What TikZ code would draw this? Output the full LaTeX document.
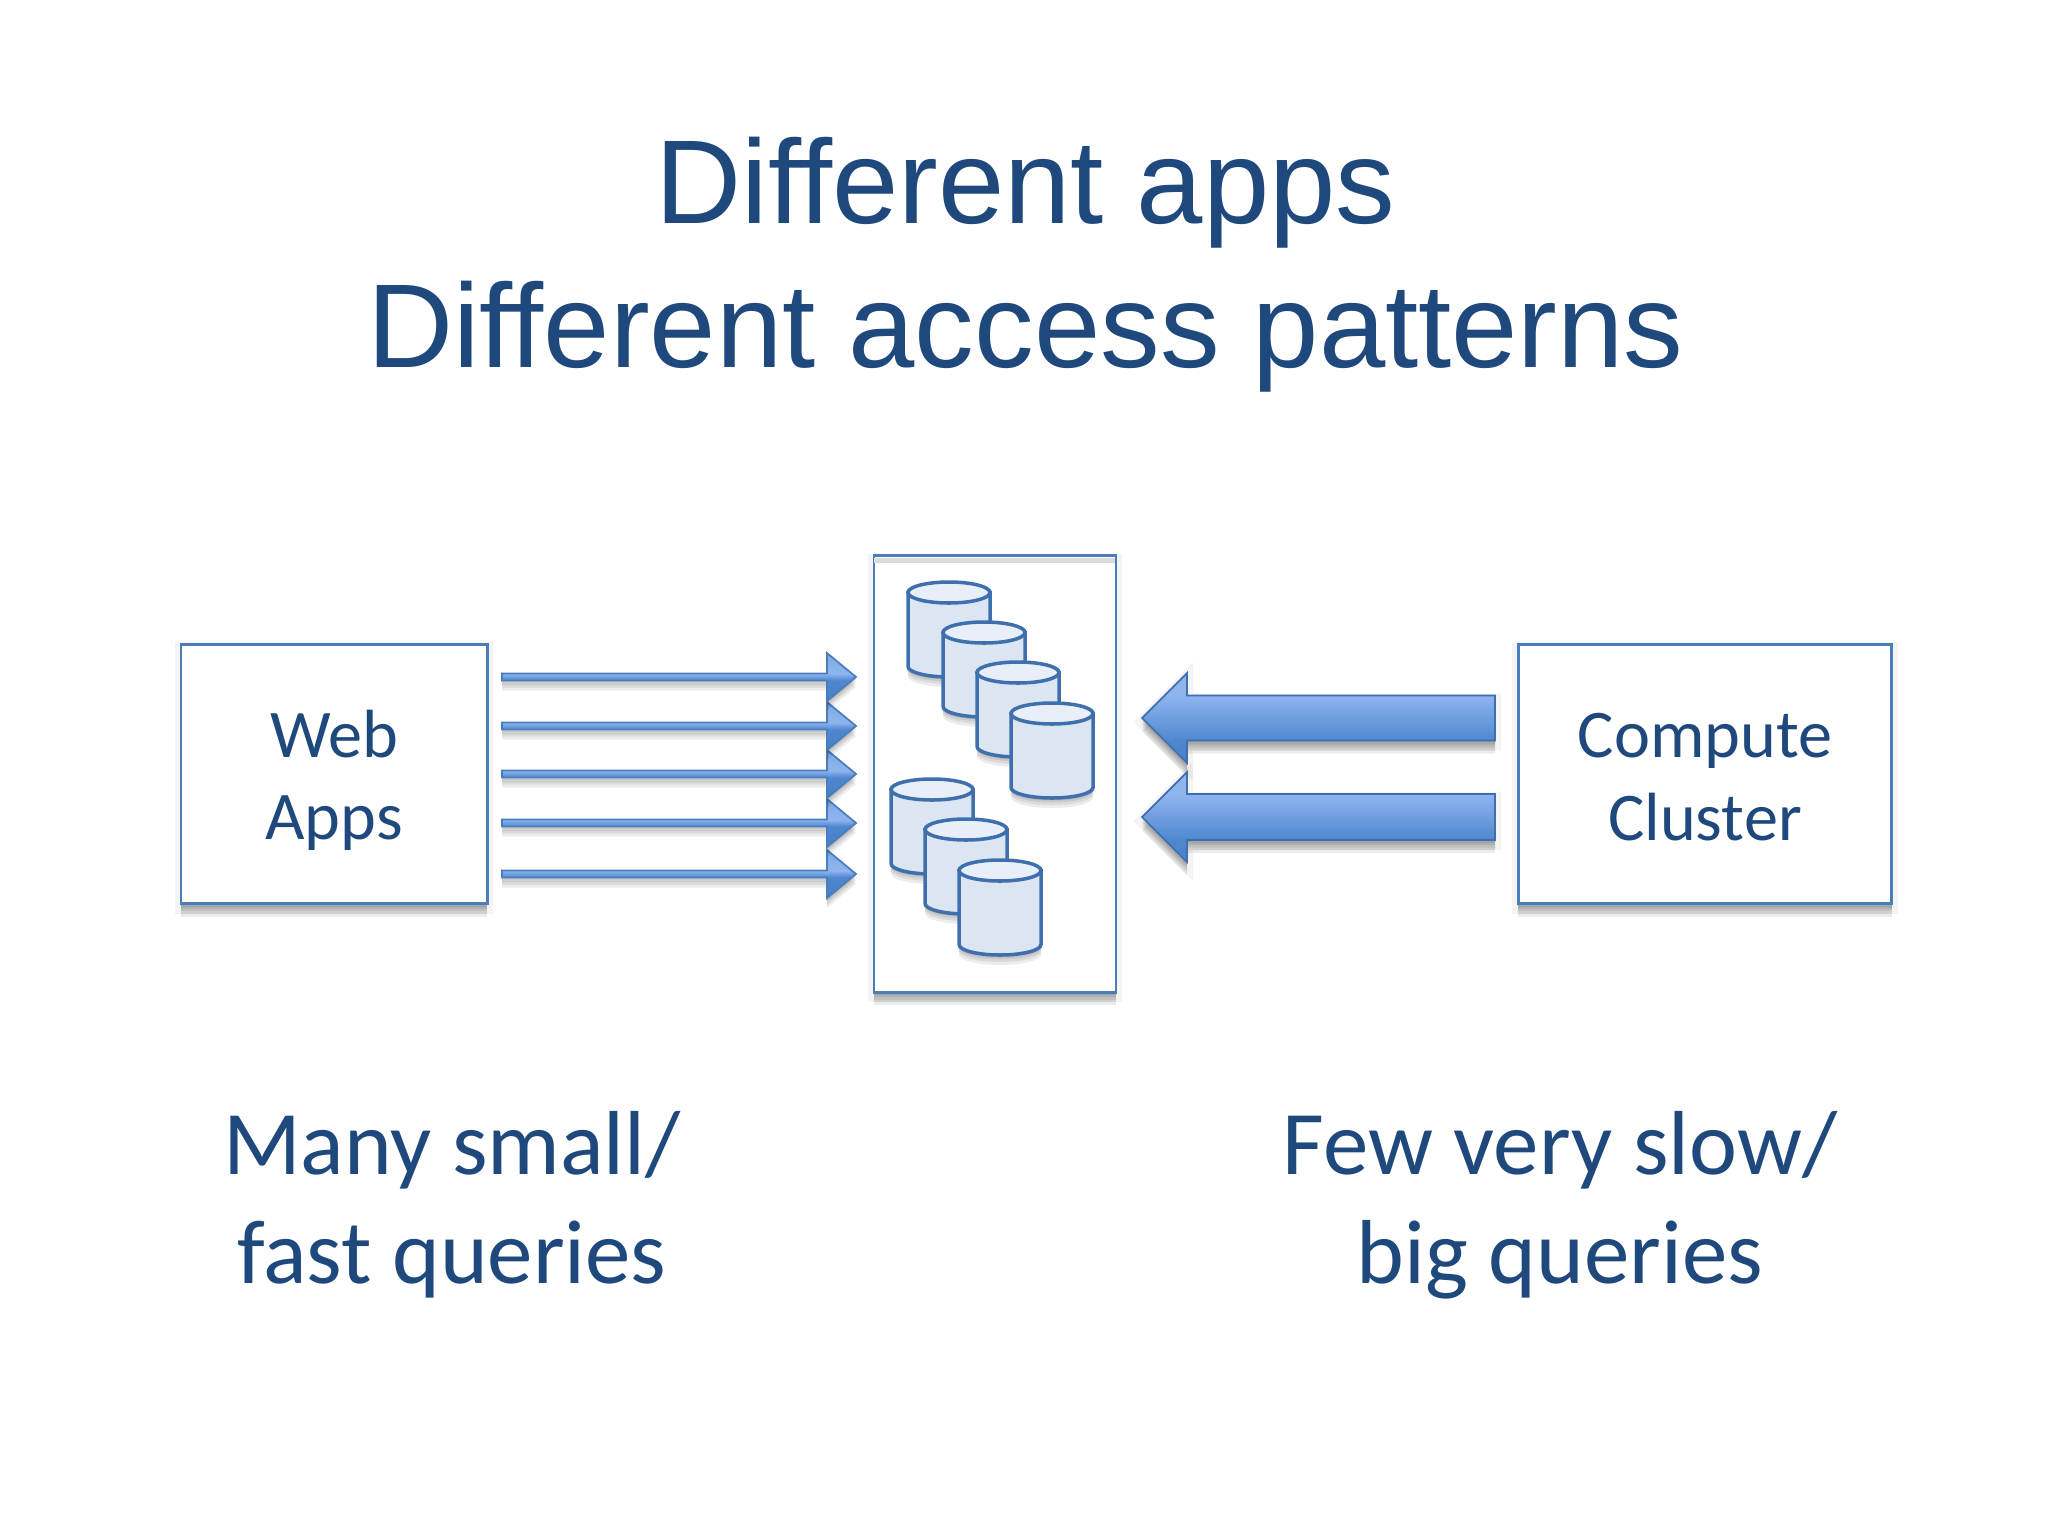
\documentclass[tikz,border=0pt]{standalone}
\usepackage{fontspec}
\setmainfont{Carlito}
\newfontfamily\titlefont{Liberation Sans}
\usetikzlibrary{calc}
\definecolor{ink}{HTML}{1F497D}
\definecolor{edge}{HTML}{4A7EBB}
\definecolor{cyledge}{HTML}{3F70AD}
\definecolor{cylbody}{HTML}{DCE6F2}
\definecolor{cyltop}{HTML}{E9EFF8}
\definecolor{shA}{HTML}{3A78C2}
\definecolor{shB}{HTML}{4F87CF}
\definecolor{shC}{HTML}{8FB5EF}
\definecolor{shD}{HTML}{7FA8E6}
\pgfdeclareverticalshading{fatshade}{100bp}{color(0bp)=(shA); color(37.5bp)=(shB); color(62.5bp)=(shC); color(100bp)=(shC)}
\pgfdeclareverticalshading{thinshade}{100bp}{color(0bp)=(shA); color(46.4bp)=(shB); color(53.6bp)=(shC); color(75bp)=(shD); color(100bp)=(shD)}
\tikzset{
  x=0.01cm, y=-0.01cm,
  softlayer/.style={preaction={draw=none,fill=black,fill opacity=.075,transform canvas={yshift=-#1 cm}}},
  spreadlayer/.style={preaction={draw=black,line width=#1,draw opacity=.045,fill=none,transform canvas={yshift=-.04cm}}},
  softshadow/.style={spreadlayer=3.5pt,softlayer=.13,softlayer=.1,softlayer=.075,softlayer=.05,softlayer=.03},
  smallshadow/.style={softlayer=.1,softlayer=.07,softlayer=.045,softlayer=.025},
  whitebox/.style={draw=edge,line width=.8pt,fill=white,softshadow,align=center,text=ink,
    font=\fontsize{19.4}{23.5}\selectfont,inner sep=0pt},
  bigtext/.style={align=center,text=ink,font=\fontsize{25.85}{31}\selectfont,inner sep=0pt},
  titletext/.style={align=center,text=ink,font=\titlefont\fontsize{33.9}{41}\selectfont,inner sep=0pt},
  thinarrow/.style={draw=edge,line width=.5pt,shading=thinshade,line join=miter,smallshadow},
  fatarrow/.style={draw=cyledge,line width=.5pt,shading=fatshade,line join=miter,softshadow},
  dbcyl/.pic={
    \path[draw=cyledge,line width=1pt,fill=cylbody,smallshadow]
      (0,10.5) -- (0,84.5) .. controls (0,90.3) and (18.4,95) .. (41,95)
      .. controls (63.6,95) and (82,90.3) .. (82,84.5) -- (82,10.5) -- cycle;
    \path[draw=cyledge,line width=1pt,fill=cyltop] (41,10.5) ellipse [x radius=41,y radius=10.5];
  }
}
% style, start, tip, half shaft, signed head length, half head
\newcommand{\blockarrow}[6]{%
  \path[#1] ($(#2)+(0,-#4)$) -- ($(#3)+(-#5,-#4)$) -- ($(#3)+(-#5,-#6)$) -- (#3)
    -- ($(#3)+(-#5,#6)$) -- ($(#3)+(-#5,#4)$) -- ($(#2)+(0,#4)$) -- cycle;}
\begin{document}
\begin{tikzpicture}
\path[fill=white] (0,0) rectangle (2048,1536);
\useasboundingbox (0,0) rectangle (2048,1536);

\node[titletext] (title) at (1025.5,265) {Different apps\\Different access patterns};

\node[whitebox,minimum width=3.06cm,minimum height=2.59cm] (web) at (334,774) {\rule{0pt}{17pt}Web\\Apps};
\node[whitebox,minimum width=3.73cm,minimum height=2.59cm] (compute) at (1705,774) {\rule{0pt}{14.5pt}Compute\\Cluster};
\node[whitebox,minimum width=2.42cm,minimum height=4.36cm] (store) at (995,774) {};
\fill[black!14] (874,558) rectangle (1115,563);

\foreach \px/\py in {908/582,943/622,977/662,1011/703,891/779,925/819,959/860}
  \pic at (\px,\py) {dbcyl};

\foreach \i/\ay in {1/677,2/726,3/774,4/823,5/874}{
  \coordinate (ws\i) at (502,\ay);
  \coordinate (wt\i) at (856,\ay);
}
\foreach \i in {5,4,3,2,1}{
  \blockarrow{thinarrow}{ws\i}{wt\i}{3.5}{29}{24}
}
\coordinate (cs1) at (1495,718);
\coordinate (ct1) at (1142,718);
\coordinate (cs2) at (1495,817);
\coordinate (ct2) at (1142,817);
\blockarrow{fatarrow}{cs1}{ct1}{22.5}{-45}{45}
\blockarrow{fatarrow}{cs2}{ct2}{23}{-45}{45}

\node[bigtext] (left) at (452,1205) {Many small/\\fast queries};
\node[bigtext] (right) at (1560,1205) {Few very slow/\\big queries};
\end{tikzpicture}
\end{document}
